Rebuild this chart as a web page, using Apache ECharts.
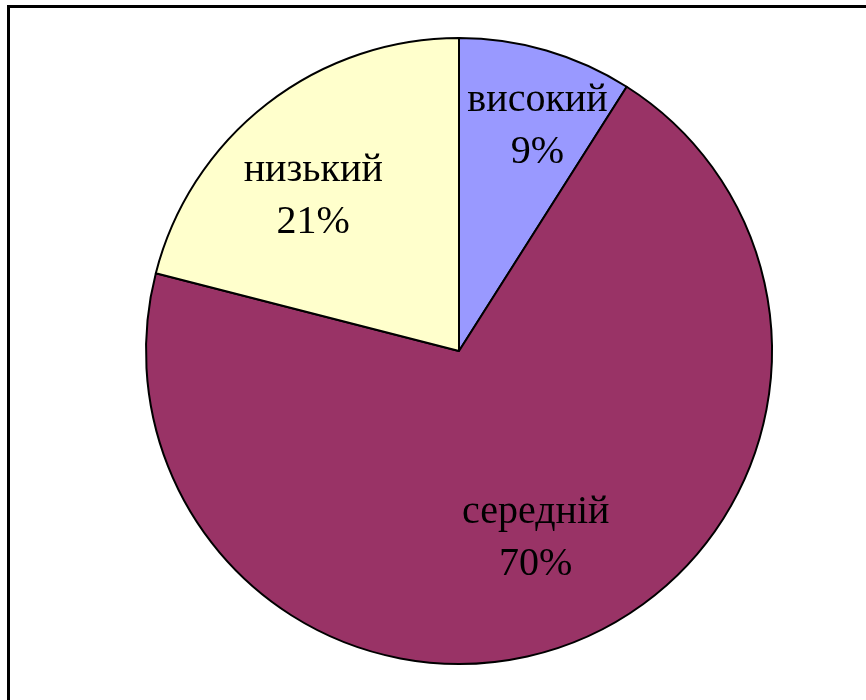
<!DOCTYPE html>
<html><head><meta charset="utf-8">
<script src="https://cdn.jsdelivr.net/npm/echarts@6/dist/echarts.min.js"></script>
<style>html,body{margin:0;padding:0;background:#fff}#c{width:866px;height:700px}</style>
</head><body><div id="c"></div>
<script>
const categories = ['високий', 'середній', 'низький'];
const values = [9, 70, 21];
const colors = ['#9999FF', '#993366', '#FFFFCC'];
const labelShift = [[34, -71], [18, 39], [-48, -28]];

const chart = echarts.init(document.getElementById('c'));
chart.setOption({
  backgroundColor: '#fff',
  animation: false,
  graphic: [{
    type: 'rect', shape: { x: 8.5, y: 6.5, width: 1000, height: 1000 },
    style: { fill: 'none', stroke: '#000', lineWidth: 3 }, z: 10
  }],
  series: [{
    type: 'pie',
    center: [459, 351],
    radius: 313,
    startAngle: 90,
    clockwise: true,
    data: categories.map((c, i) => ({ name: c, value: values[i], itemStyle: { color: colors[i] } })),
    itemStyle: { borderColor: '#000', borderWidth: 2 },
    label: {
      show: true, position: 'inside',
      formatter: p => p.name + '\n' + p.value + '%',
      fontFamily: 'Liberation Serif', fontSize: 40, color: '#000', lineHeight: 52, align: 'center'
    },
    labelLayout: p => ({ dx: labelShift[p.dataIndex][0], dy: labelShift[p.dataIndex][1] }),
    labelLine: { show: false },
    emphasis: { disabled: true }
  }]
});
</script></body></html>
